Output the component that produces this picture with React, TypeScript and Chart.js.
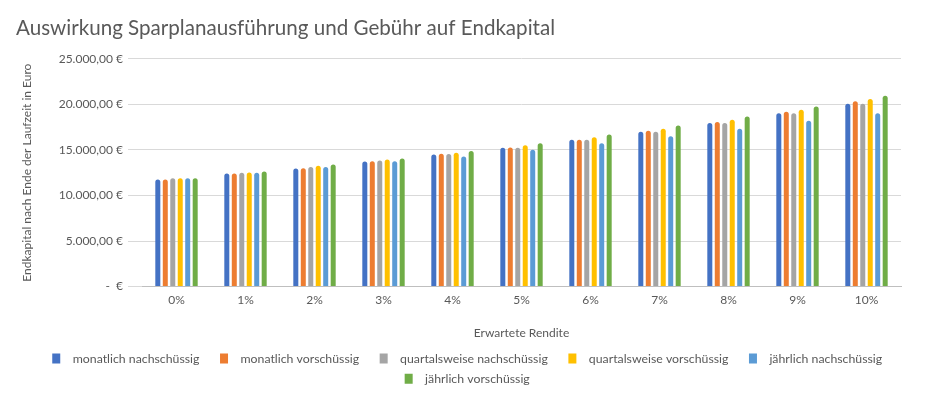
import React, { useEffect, useRef } from "react";
import { Chart, registerables } from "chart.js";

Chart.register(...registerables);

const categories = ["0%", "1%", "2%", "3%", "4%", "5%", "6%", "7%", "8%", "9%", "10%"];

const monatlichNachschuessig = [11750, 12400, 12970, 13720, 14500, 15230, 16100, 16980, 17950, 19020, 20070];
const monatlichVorschuessig = [11760, 12410, 12990, 13740, 14580, 15250, 16120, 17100, 18050, 19170, 20340];
const quartalsweiseNachschuessig = [11880, 12500, 13110, 13830, 14560, 15230, 16100, 16980, 17950, 19020, 20070];
const quartalsweiseVorschuessig = [11890, 12510, 13260, 13940, 14680, 15520, 16380, 17310, 18300, 19390, 20570];
const jaehrlichNachschuessig = [11880, 12500, 13110, 13750, 14280, 15010, 15720, 16490, 17320, 18200, 19030];
const jaehrlichVorschuessig = [11900, 12620, 13390, 14060, 14880, 15740, 16700, 17680, 18650, 19750, 20950];

const seriesNames = [
  "monatlich nachschüssig",
  "monatlich vorschüssig",
  "quartalsweise nachschüssig",
  "quartalsweise vorschüssig",
  "jährlich nachschüssig",
  "jährlich vorschüssig",
];
const seriesColors = ["#4472C4", "#ED7D31", "#A5A5A5", "#FFC000", "#5B9BD5", "#70AD47"];

const yTickLabels = ["-  €", "5.000,00 €", "10.000,00 €", "15.000,00 €", "20.000,00 €", "25.000,00 €"];

const titleText = "Auswirkung Sparplanausführung und Gebühr auf Endkapital";
const yTitle = "Endkapital nach Ende der Laufzeit in Euro";
const xTitle = "Erwartete Rendite";

const FONT = "Lato";
const TEXT = "#595959";

const legendShift = {
  id: "legendShift",
  afterLayout(c: any) {
    if (c.legend) {
      c.legend.left += 15;
      c.legend.right += 15;
    }
  },
};

export default function App() {
  const ref = useRef<HTMLCanvasElement | null>(null);

  useEffect(() => {
    if (!ref.current) return;
    const values = [
      monatlichNachschuessig,
      monatlichVorschuessig,
      quartalsweiseNachschuessig,
      quartalsweiseVorschuessig,
      jaehrlichNachschuessig,
      jaehrlichVorschuessig,
    ];
    const chart = new Chart(ref.current, {
      type: "bar",
      data: {
        labels: categories,
        datasets: values.map((v, i) => ({
          label: seriesNames[i],
          data: v,
          backgroundColor: seriesColors[i],
          borderWidth: 0,
          borderRadius: 3,
          categoryPercentage: 0.65,
          barPercentage: 0.67,
        })),
      },
      plugins: [legendShift],
      options: {
        responsive: false,
        animation: false,
        layout: { padding: { left: 16, right: 27, top: 0, bottom: 4 } },
        plugins: {
          title: {
            display: true,
            text: titleText,
            align: "start",
            color: TEXT,
            font: { family: FONT, size: 20.6, weight: "normal" },
            padding: { top: 16, bottom: 18 },
          },
          legend: {
            position: "bottom",
            labels: {
              color: TEXT,
              font: { family: FONT, size: 12.3 },
              boxWidth: 8,
              boxHeight: 10,
              padding: 8,
              generateLabels: (c) => {
                const items = Chart.defaults.plugins.legend.labels.generateLabels(c);
                return items.map((it) => ({ ...it, text: "  " + it.text + "    ", lineWidth: 0 }));
              },
            },
          },
          tooltip: { enabled: false },
        },
        scales: {
          x: {
            grid: { display: false, drawTicks: false },
            border: { display: true, color: "#BFBFBF", width: 1 },
            ticks: { color: TEXT, font: { family: FONT, size: 12 }, padding: 6 },
            title: {
              display: true,
              text: xTitle,
              color: TEXT,
              font: { family: FONT, size: 12 },
              padding: { top: 13, bottom: 4 },
            },
          },
          y: {
            min: 0,
            max: 25000,
            grid: { color: "#D9D9D9", tickLength: 14, drawTicks: true },
            border: { display: false },
            ticks: {
              stepSize: 5000,
              color: TEXT,
              font: { family: FONT, size: 12 },
              padding: 5,
              callback: (_v, i) => yTickLabels[i],
            },
            title: {
              display: true,
              text: yTitle,
              color: TEXT,
              font: { family: FONT, size: 12 },
              padding: { top: 4, bottom: 4 },
            },
            afterFit: (scale) => {
              scale.width = 126;
            },
          },
        },
      },
    });
    return () => chart.destroy();
  }, []);

  return (
    <div style={{ position: "absolute", left: 0, top: 0, width: 928, height: 399, background: "#fff" }}>
      <canvas ref={ref} width={928} height={399} />
    </div>
  );
}
